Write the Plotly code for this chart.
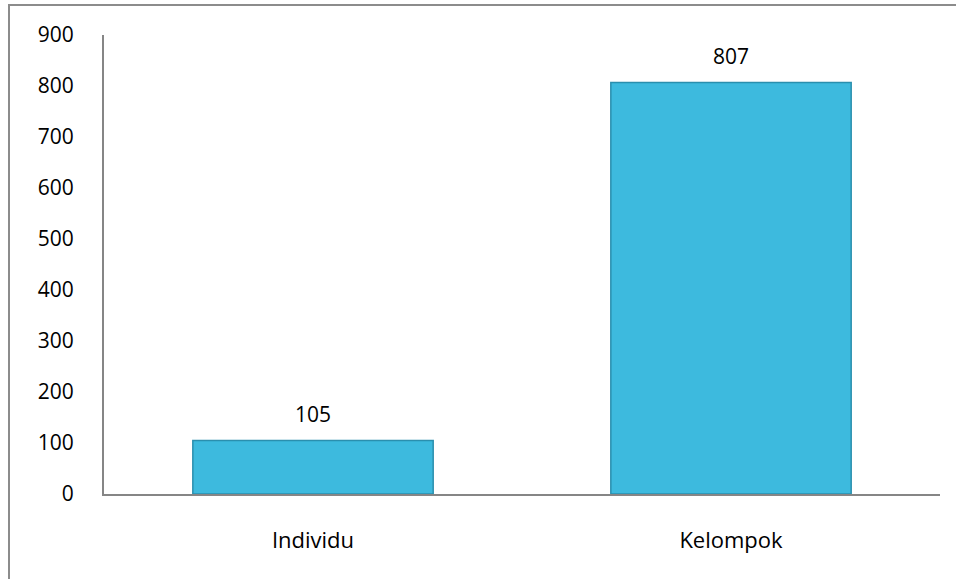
import plotly.graph_objects as go

categories = ["Individu", "Kelompok"]
values = [105, 807]
y_ticks = [0, 100, 200, 300, 400, 500, 600, 700, 800, 900]

W, H = 956, 579
L, R, T, B = 104, 16, 35, 85
pw, ph = W - L - R, H - T - B

FONT = "'Open Sans', Lato, sans-serif"
FS = 21

fig = go.Figure()
fig.add_trace(go.Bar(
    x=categories, y=values, width=0.575,
    marker=dict(color="#3dbade", line=dict(color="#2a8fae", width=1.5)),
    hoverinfo="x+y",
))
for c, v in zip(categories, values):
    fig.add_annotation(x=c, y=v, text=str(v), showarrow=False, yanchor="bottom",
                       yshift=10, font=dict(family=FONT, size=FS, color="#000"))

def px_x(p):
    return (p - L) / pw

def px_y(p):
    return (H - B - p) / ph

border = dict(color="#8c8c8c", width=2)
fig.add_shape(type="line", xref="paper", yref="paper", x0=px_x(9), x1=px_x(9),
              y0=px_y(5), y1=px_y(H + 5), line=border)
fig.add_shape(type="line", xref="paper", yref="paper", x0=px_x(8), x1=px_x(W + 5),
              y0=px_y(5), y1=px_y(5), line=border)

fig.update_layout(
    width=W, height=H, margin=dict(l=L, r=R, t=T, b=B),
    paper_bgcolor="white", plot_bgcolor="white", showlegend=False,
    font=dict(family=FONT, size=FS, color="#000"),
    xaxis=dict(showline=True, linecolor="#868686", linewidth=2, ticks="",
               showgrid=False, ticklabelstandoff=26, tickfont=dict(size=22)),
    yaxis=dict(range=[0, 900], tickvals=y_ticks, showline=True, linecolor="#868686",
               linewidth=2, ticks="", showgrid=False, zeroline=False,
               ticklabelstandoff=24, tickfont=dict(size=FS)),
)

fig.write_html("out.html")
